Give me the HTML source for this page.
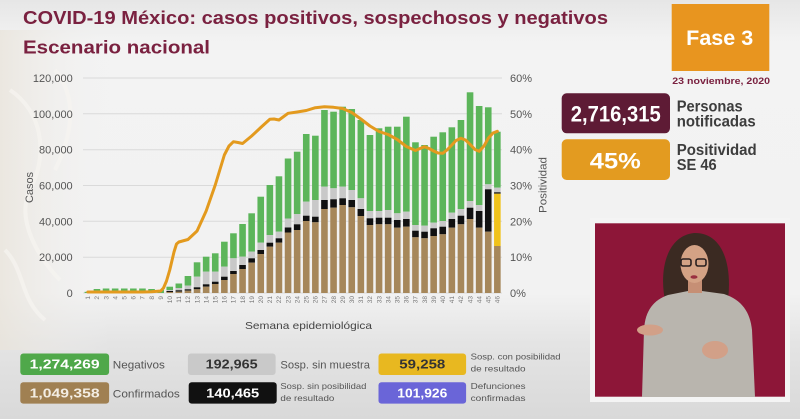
<!DOCTYPE html>
<html><head><meta charset="utf-8"><style>
html,body{margin:0;padding:0;width:800px;height:419px;overflow:hidden;background:#f1f1f1}
svg{display:block}
text{font-family:"Liberation Sans",sans-serif}
</style></head><body>
<svg width="800" height="419" viewBox="0 0 800 419" xmlns="http://www.w3.org/2000/svg">
<defs>
<linearGradient id="bg" x1="0" y1="0" x2="0" y2="1">
<stop offset="0" stop-color="#e6e6e6"/><stop offset="0.1" stop-color="#f3f3f3"/><stop offset="0.7" stop-color="#f2f2f2"/><stop offset="0.82" stop-color="#e4e4e4"/><stop offset="1" stop-color="#d9d9d9"/>
</linearGradient>
<linearGradient id="lf" x1="0" y1="0" x2="1" y2="0">
<stop offset="0" stop-color="#e9e4db"/><stop offset="1" stop-color="#f1f1f1" stop-opacity="0"/>
</linearGradient>
</defs>
<rect width="800" height="419" fill="url(#bg)"/>
<rect x="0" y="30" width="110" height="320" fill="url(#lf)" opacity="0.8"/>
<g fill="none" stroke="#f7f5f1" stroke-width="4" opacity="0.7">
<path d="M10 90 C40 110 50 150 30 190 C15 220 40 260 60 280"/>
<path d="M55 70 C80 100 70 140 55 170"/>
<path d="M5 250 C25 270 20 300 45 320"/>
</g>

<!-- Title -->
<text x="23" y="24" font-size="18" font-weight="bold" fill="#7a2140" textLength="585" lengthAdjust="spacingAndGlyphs">COVID-19 México: casos positivos, sospechosos y negativos</text>
<text x="23" y="53.5" font-size="18" font-weight="bold" fill="#7a2140" textLength="187" lengthAdjust="spacingAndGlyphs">Escenario nacional</text>

<!-- gridlines -->
<g stroke="#dadada" stroke-width="1">
<line x1="83" y1="78" x2="502" y2="78"/>
<line x1="83" y1="113.8" x2="502" y2="113.8"/>
<line x1="83" y1="149.7" x2="502" y2="149.7"/>
<line x1="83" y1="185.5" x2="502" y2="185.5"/>
<line x1="83" y1="221.3" x2="502" y2="221.3"/>
<line x1="83" y1="257.2" x2="502" y2="257.2"/>
<line x1="83" y1="293" x2="502" y2="293"/>
</g>

<!-- y labels left -->
<g font-size="11" fill="#555" text-anchor="end">
<text x="72.7" y="82">120,000</text>
<text x="72.7" y="117.8">100,000</text>
<text x="72.7" y="153.7">80,000</text>
<text x="72.7" y="189.5">60,000</text>
<text x="72.7" y="225.3">40,000</text>
<text x="72.7" y="261.2">20,000</text>
<text x="72.7" y="297">0</text>
</g>
<text transform="translate(33,187.5) rotate(-90)" font-size="11" fill="#555" text-anchor="middle" textLength="31" lengthAdjust="spacingAndGlyphs">Casos</text>
<!-- y labels right -->
<g font-size="11" fill="#555">
<text x="510" y="82">60%</text>
<text x="510" y="117.8">50%</text>
<text x="510" y="153.7">40%</text>
<text x="510" y="189.5">30%</text>
<text x="510" y="225.3">20%</text>
<text x="510" y="261.2">10%</text>
<text x="510" y="297">0%</text>
</g>
<text transform="translate(546.5,185) rotate(-90)" font-size="11" fill="#555" text-anchor="middle" textLength="56" lengthAdjust="spacingAndGlyphs">Positividad</text>

<!-- bars -->
<g>
<g fill="#5cb55a">
<rect x="84.55" y="291.8" width="6.6" height="1.2"/>
<rect x="93.65" y="289" width="6.6" height="4"/>
<rect x="102.75" y="288.5" width="6.6" height="4.5"/>
<rect x="111.85" y="288.5" width="6.6" height="4.5"/>
<rect x="120.95" y="288.5" width="6.6" height="4.5"/>
<rect x="130.05" y="288.5" width="6.6" height="4.5"/>
<rect x="139.15" y="288.5" width="6.6" height="4.5"/>
<rect x="148.25" y="289" width="6.6" height="4"/>
<rect x="157.35" y="290" width="6.6" height="3"/>
</g>
<g fill="#5cb55a">
<rect x="166.45" y="286.7" width="6.6" height="3.3"/>
<rect x="175.55" y="283.5" width="6.6" height="4.5"/>
<rect x="184.65" y="276" width="6.6" height="9.5"/>
<rect x="193.75" y="262.3" width="6.6" height="14.4"/>
<rect x="202.85" y="256.7" width="6.6" height="15"/>
<rect x="211.95" y="253.3" width="6.6" height="18.4"/>
<rect x="221.05" y="241.7" width="6.6" height="25"/>
<rect x="230.15" y="233.3" width="6.6" height="25"/>
<rect x="239.25" y="224" width="6.6" height="32.7"/>
<rect x="248.35" y="213.3" width="6.6" height="38.4"/>
<rect x="257.45" y="196.7" width="6.6" height="46"/>
<rect x="266.55" y="185" width="6.6" height="50"/>
<rect x="275.65" y="176.3" width="6.6" height="55.4"/>
<rect x="284.75" y="158.5" width="6.6" height="60"/>
<rect x="293.85" y="151.7" width="6.6" height="62.3"/>
<rect x="302.95" y="134" width="6.6" height="67.7"/>
<rect x="312.05" y="135.7" width="6.6" height="64.3"/>
<rect x="321.15" y="110" width="6.6" height="76.7"/>
<rect x="330.25" y="111.7" width="6.6" height="76.6"/>
<rect x="339.35" y="106.7" width="6.6" height="80"/>
<rect x="348.45" y="109" width="6.6" height="81"/>
<rect x="357.55" y="120" width="6.6" height="78.3"/>
<rect x="366.65" y="135" width="6.6" height="76"/>
<rect x="375.75" y="128.3" width="6.6" height="82.7"/>
<rect x="384.85" y="126.7" width="6.6" height="83.3"/>
<rect x="393.95" y="126.7" width="6.6" height="86.6"/>
<rect x="403.05" y="116.7" width="6.6" height="95"/>
<rect x="412.15" y="142.3" width="6.6" height="82.7"/>
<rect x="421.25" y="145" width="6.6" height="80.7"/>
<rect x="430.35" y="136.7" width="6.6" height="86"/>
<rect x="439.45" y="132.3" width="6.6" height="88.7"/>
<rect x="448.55" y="127.3" width="6.6" height="85.4"/>
<rect x="457.65" y="120" width="6.6" height="89"/>
<rect x="466.75" y="92.3" width="6.6" height="108.7"/>
<rect x="475.85" y="106" width="6.6" height="99"/>
<rect x="484.95" y="107.3" width="6.6" height="77"/>
<rect x="494.05" y="131.7" width="6.6" height="56"/>
</g>
<g fill="#c8c8c8">
<rect x="166.45" y="290" width="6.6" height="1"/>
<rect x="175.55" y="288" width="6.6" height="2.3"/>
<rect x="184.65" y="285.5" width="6.6" height="3.8"/>
<rect x="193.75" y="276.7" width="6.6" height="10.6"/>
<rect x="202.85" y="271.7" width="6.6" height="12.6"/>
<rect x="211.95" y="271.7" width="6.6" height="10"/>
<rect x="221.05" y="266.7" width="6.6" height="10"/>
<rect x="230.15" y="258.3" width="6.6" height="12.7"/>
<rect x="239.25" y="256.7" width="6.6" height="8.3"/>
<rect x="248.35" y="251.7" width="6.6" height="6.6"/>
<rect x="257.45" y="242.7" width="6.6" height="7.3"/>
<rect x="266.55" y="235" width="6.6" height="7.7"/>
<rect x="275.65" y="231.7" width="6.6" height="6.6"/>
<rect x="284.75" y="218.5" width="6.6" height="9"/>
<rect x="293.85" y="214" width="6.6" height="10.3"/>
<rect x="302.95" y="201.7" width="6.6" height="14"/>
<rect x="312.05" y="200" width="6.6" height="16.7"/>
<rect x="321.15" y="186.7" width="6.6" height="13.3"/>
<rect x="330.25" y="188.3" width="6.6" height="11"/>
<rect x="339.35" y="186.7" width="6.6" height="11.6"/>
<rect x="348.45" y="190" width="6.6" height="10"/>
<rect x="357.55" y="198.3" width="6.6" height="10.7"/>
<rect x="366.65" y="211" width="6.6" height="7.3"/>
<rect x="375.75" y="211" width="6.6" height="6.7"/>
<rect x="384.85" y="210" width="6.6" height="7.7"/>
<rect x="393.95" y="213.3" width="6.6" height="6.7"/>
<rect x="403.05" y="211.7" width="6.6" height="7.3"/>
<rect x="412.15" y="225" width="6.6" height="5.7"/>
<rect x="421.25" y="225.7" width="6.6" height="6"/>
<rect x="430.35" y="222.7" width="6.6" height="5.6"/>
<rect x="439.45" y="221" width="6.6" height="5.7"/>
<rect x="448.55" y="212.7" width="6.6" height="6.3"/>
<rect x="457.65" y="209" width="6.6" height="6.7"/>
<rect x="466.75" y="201" width="6.6" height="6.7"/>
<rect x="475.85" y="205" width="6.6" height="6"/>
<rect x="484.95" y="184.3" width="6.6" height="5"/>
<rect x="494.05" y="187.7" width="6.6" height="4.6"/>
</g>
<g fill="#111">
<rect x="166.45" y="291" width="6.6" height="1"/>
<rect x="175.55" y="290.3" width="6.6" height="1.4"/>
<rect x="184.65" y="289.3" width="6.6" height="1.4"/>
<rect x="193.75" y="287.3" width="6.6" height="2"/>
<rect x="202.85" y="284.3" width="6.6" height="2.4"/>
<rect x="211.95" y="281.7" width="6.6" height="2.3"/>
<rect x="221.05" y="276.7" width="6.6" height="3.3"/>
<rect x="230.15" y="271" width="6.6" height="3"/>
<rect x="239.25" y="265" width="6.6" height="4"/>
<rect x="248.35" y="258.3" width="6.6" height="4.4"/>
<rect x="257.45" y="250" width="6.6" height="4"/>
<rect x="266.55" y="242.7" width="6.6" height="4"/>
<rect x="275.65" y="238.3" width="6.6" height="4.4"/>
<rect x="284.75" y="227.5" width="6.6" height="5"/>
<rect x="293.85" y="224.3" width="6.6" height="5.7"/>
<rect x="302.95" y="215.7" width="6.6" height="5.3"/>
<rect x="312.05" y="216.7" width="6.6" height="5.6"/>
<rect x="321.15" y="200" width="6.6" height="9"/>
<rect x="330.25" y="199.3" width="6.6" height="8.4"/>
<rect x="339.35" y="198.3" width="6.6" height="6.7"/>
<rect x="348.45" y="200" width="6.6" height="7.3"/>
<rect x="357.55" y="209" width="6.6" height="7"/>
<rect x="366.65" y="218.3" width="6.6" height="6.7"/>
<rect x="375.75" y="217.7" width="6.6" height="6.6"/>
<rect x="384.85" y="217.7" width="6.6" height="6.6"/>
<rect x="393.95" y="220" width="6.6" height="7.7"/>
<rect x="403.05" y="219" width="6.6" height="7.7"/>
<rect x="412.15" y="230.7" width="6.6" height="6.6"/>
<rect x="421.25" y="231.7" width="6.6" height="6.6"/>
<rect x="430.35" y="228.3" width="6.6" height="7.7"/>
<rect x="439.45" y="226.7" width="6.6" height="7.6"/>
<rect x="448.55" y="219" width="6.6" height="8.7"/>
<rect x="457.65" y="215.7" width="6.6" height="8.6"/>
<rect x="466.75" y="207.7" width="6.6" height="11.3"/>
<rect x="475.85" y="211" width="6.6" height="16.7"/>
<rect x="484.95" y="189.3" width="6.6" height="42.4"/>
<rect x="494.05" y="192.3" width="6.6" height="1.4"/>
</g>
<rect x="494.05" y="193.7" width="6.6" height="52.3" fill="#f0c21b"/>
<g fill="#a6875a">
<rect x="166.45" y="292" width="6.6" height="1"/>
<rect x="175.55" y="291.7" width="6.6" height="1.3"/>
<rect x="184.65" y="290.7" width="6.6" height="2.3"/>
<rect x="193.75" y="289.3" width="6.6" height="3.7"/>
<rect x="202.85" y="286.7" width="6.6" height="6.3"/>
<rect x="211.95" y="284" width="6.6" height="9"/>
<rect x="221.05" y="280" width="6.6" height="13"/>
<rect x="230.15" y="274" width="6.6" height="19"/>
<rect x="239.25" y="269" width="6.6" height="24"/>
<rect x="248.35" y="262.7" width="6.6" height="30.3"/>
<rect x="257.45" y="254" width="6.6" height="39"/>
<rect x="266.55" y="246.7" width="6.6" height="46.3"/>
<rect x="275.65" y="242.7" width="6.6" height="50.3"/>
<rect x="284.75" y="232.5" width="6.6" height="60.5"/>
<rect x="293.85" y="230" width="6.6" height="63"/>
<rect x="302.95" y="221" width="6.6" height="72"/>
<rect x="312.05" y="222.3" width="6.6" height="70.7"/>
<rect x="321.15" y="209" width="6.6" height="84"/>
<rect x="330.25" y="207.7" width="6.6" height="85.3"/>
<rect x="339.35" y="205" width="6.6" height="88"/>
<rect x="348.45" y="207.3" width="6.6" height="85.7"/>
<rect x="357.55" y="216" width="6.6" height="77"/>
<rect x="366.65" y="225" width="6.6" height="68"/>
<rect x="375.75" y="224.3" width="6.6" height="68.7"/>
<rect x="384.85" y="224.3" width="6.6" height="68.7"/>
<rect x="393.95" y="227.7" width="6.6" height="65.3"/>
<rect x="403.05" y="226.7" width="6.6" height="66.3"/>
<rect x="412.15" y="237.3" width="6.6" height="55.7"/>
<rect x="421.25" y="238.3" width="6.6" height="54.7"/>
<rect x="430.35" y="236" width="6.6" height="57"/>
<rect x="439.45" y="234.3" width="6.6" height="58.7"/>
<rect x="448.55" y="227.7" width="6.6" height="65.3"/>
<rect x="457.65" y="224.3" width="6.6" height="68.7"/>
<rect x="466.75" y="219" width="6.6" height="74"/>
<rect x="475.85" y="227.7" width="6.6" height="65.3"/>
<rect x="484.95" y="231.7" width="6.6" height="61.3"/>
<rect x="494.05" y="246" width="6.6" height="47"/>
</g>
</g>

<!-- positivity line -->
<polyline fill="none" stroke="#e39a1e" stroke-width="3" stroke-linejoin="round" stroke-linecap="round" points="87.85,292 96.95,292 106.05,292 115.15,292 124.25,292 133.35,292 142.45,292 151.55,291.8 160.65,291 163.5,288 166.5,281 169.75,270 174,252 176.5,244 178.85,242 187.95,239.5 197.05,231 206.15,211 215.25,185 224.35,155 229,146 233.45,141.7 238,142.5 242.55,143.5 251.65,136 260.75,127.5 269.85,119.3 274,119 278.95,120 288.05,113.3 297.15,112 306.25,110.5 315.35,107.7 324.45,106.7 333.55,107.3 342.65,108.5 351.75,112.5 360.85,119 369.95,126 379.05,131.5 388.15,134.5 397.25,139.5 406.35,146.5 415.45,150.5 420,148.5 424.55,146.7 429,148.5 433.65,151 438,153 442.75,153.3 447,150 451.85,145 456,140.5 460.95,138.3 465.5,140 470.05,144.3 475,149.5 479.15,151.3 484,146 488.25,138.3 493,133 497.35,131.3"/>

<!-- x tick labels -->
<g font-size="6.5" fill="#777" text-anchor="end">
<text transform="translate(90.1,296) rotate(-90)">1</text>
<text transform="translate(99.2,296) rotate(-90)">2</text>
<text transform="translate(108.3,296) rotate(-90)">3</text>
<text transform="translate(117.4,296) rotate(-90)">4</text>
<text transform="translate(126.5,296) rotate(-90)">5</text>
<text transform="translate(135.6,296) rotate(-90)">6</text>
<text transform="translate(144.7,296) rotate(-90)">7</text>
<text transform="translate(153.8,296) rotate(-90)">8</text>
<text transform="translate(162.9,296) rotate(-90)">9</text>
<text transform="translate(172,296) rotate(-90)">10</text>
<text transform="translate(181.1,296) rotate(-90)">11</text>
<text transform="translate(190.2,296) rotate(-90)">12</text>
<text transform="translate(199.3,296) rotate(-90)">13</text>
<text transform="translate(208.4,296) rotate(-90)">14</text>
<text transform="translate(217.5,296) rotate(-90)">15</text>
<text transform="translate(226.6,296) rotate(-90)">16</text>
<text transform="translate(235.7,296) rotate(-90)">17</text>
<text transform="translate(244.8,296) rotate(-90)">18</text>
<text transform="translate(253.9,296) rotate(-90)">19</text>
<text transform="translate(263,296) rotate(-90)">20</text>
<text transform="translate(272.1,296) rotate(-90)">21</text>
<text transform="translate(281.2,296) rotate(-90)">22</text>
<text transform="translate(290.3,296) rotate(-90)">23</text>
<text transform="translate(299.4,296) rotate(-90)">24</text>
<text transform="translate(308.5,296) rotate(-90)">25</text>
<text transform="translate(317.6,296) rotate(-90)">26</text>
<text transform="translate(326.7,296) rotate(-90)">27</text>
<text transform="translate(335.8,296) rotate(-90)">28</text>
<text transform="translate(344.9,296) rotate(-90)">29</text>
<text transform="translate(354,296) rotate(-90)">30</text>
<text transform="translate(363.1,296) rotate(-90)">31</text>
<text transform="translate(372.2,296) rotate(-90)">32</text>
<text transform="translate(381.3,296) rotate(-90)">33</text>
<text transform="translate(390.4,296) rotate(-90)">34</text>
<text transform="translate(399.5,296) rotate(-90)">35</text>
<text transform="translate(408.6,296) rotate(-90)">36</text>
<text transform="translate(417.7,296) rotate(-90)">37</text>
<text transform="translate(426.8,296) rotate(-90)">38</text>
<text transform="translate(435.9,296) rotate(-90)">39</text>
<text transform="translate(445,296) rotate(-90)">40</text>
<text transform="translate(454.1,296) rotate(-90)">41</text>
<text transform="translate(463.2,296) rotate(-90)">42</text>
<text transform="translate(472.3,296) rotate(-90)">43</text>
<text transform="translate(481.4,296) rotate(-90)">44</text>
<text transform="translate(490.5,296) rotate(-90)">45</text>
<text transform="translate(499.6,296) rotate(-90)">46</text>
</g>
<text x="308.5" y="329" font-size="10.5" fill="#444" text-anchor="middle" textLength="127" lengthAdjust="spacingAndGlyphs">Semana epidemiológica</text>

<!-- right panel -->
<rect x="671.7" y="4" width="97.6" height="67" fill="#e8951f"/>
<text x="719.7" y="45" font-size="21" font-weight="bold" fill="#fff" text-anchor="middle" textLength="67" lengthAdjust="spacingAndGlyphs">Fase 3</text>
<text x="672.3" y="84" font-size="9.5" font-weight="bold" fill="#7a2140" textLength="97.7" lengthAdjust="spacingAndGlyphs">23 noviembre, 2020</text>

<rect x="561.7" y="93.3" width="108.3" height="40" rx="5" fill="#5e1b35"/>
<text x="615.8" y="121.7" font-size="22" font-weight="bold" fill="#fff" text-anchor="middle" textLength="90" lengthAdjust="spacingAndGlyphs">2,716,315</text>
<text x="676.7" y="111.7" font-size="16" font-weight="bold" fill="#3d3d3d" textLength="66" lengthAdjust="spacingAndGlyphs">Personas</text>
<text x="676.7" y="126.7" font-size="16" font-weight="bold" fill="#3d3d3d" textLength="79" lengthAdjust="spacingAndGlyphs">notificadas</text>

<rect x="561.7" y="139.3" width="108.3" height="40.7" rx="5" fill="#e39b20"/>
<text x="615.3" y="168.3" font-size="22" font-weight="bold" fill="#fff" text-anchor="middle" textLength="51" lengthAdjust="spacingAndGlyphs">45%</text>
<text x="676.7" y="155" font-size="16" font-weight="bold" fill="#3d3d3d" textLength="80" lengthAdjust="spacingAndGlyphs">Positividad</text>
<text x="676.7" y="170" font-size="16" font-weight="bold" fill="#3d3d3d" textLength="40" lengthAdjust="spacingAndGlyphs">SE 46</text>

<!-- person box -->
<rect x="590" y="218" width="200" height="184" fill="#f4f4f4"/>
<rect x="595" y="223.3" width="190" height="173.4" fill="#8d1638"/>
<g>
<path d="M666 305 C658 272 666 236 694 233 C722 232 734 264 727 307 Z" fill="#3b2a22"/>
<path d="M642 397 L644 330 C645 310 654 300 668 295 L688 291 L702 291 L724 294 C742 300 750 312 752 330 L755 397 Z" fill="#b9b5ae"/>
<rect x="688" y="280" width="14" height="13" fill="#c68f75"/>
<ellipse cx="694.5" cy="264" rx="14" ry="19" fill="#d4a285"/>
<path d="M680 254 C684 242 704 240 710 254 L712 246 C706 236 684 236 678 246 Z" fill="#3b2a22"/>
<rect x="681" y="259" width="10" height="7" rx="2" fill="none" stroke="#2a2020" stroke-width="1.6"/>
<rect x="696" y="259" width="10" height="7" rx="2" fill="none" stroke="#2a2020" stroke-width="1.6"/>
<ellipse cx="694" cy="277" rx="3.5" ry="1.8" fill="#9a3040"/>
<ellipse cx="650" cy="330" rx="13" ry="5.5" fill="#d2a088"/>
<ellipse cx="715" cy="350" rx="13" ry="9" fill="#d2a088"/>
</g>

<!-- bottom legend -->
<rect x="20.3" y="353.5" width="88.8" height="21.5" rx="3" fill="#4fa84a"/>
<text x="64.7" y="368.6" font-size="12.5" font-weight="bold" fill="#fff" text-anchor="middle" textLength="70" lengthAdjust="spacingAndGlyphs">1,274,269</text>
<text x="112.8" y="368.5" font-size="11" fill="#555" textLength="52" lengthAdjust="spacingAndGlyphs">Negativos</text>

<rect x="187.9" y="353.5" width="87.7" height="21.5" rx="3" fill="#c9c9c9"/>
<text x="231.7" y="368.6" font-size="12.5" font-weight="bold" fill="#333" text-anchor="middle" textLength="52" lengthAdjust="spacingAndGlyphs">192,965</text>
<text x="280.4" y="368.5" font-size="11" fill="#555" textLength="89.6" lengthAdjust="spacingAndGlyphs">Sosp. sin muestra</text>

<rect x="378.5" y="353.5" width="87.6" height="21.5" rx="3" fill="#e8b820"/>
<text x="422.3" y="368.6" font-size="12.5" font-weight="bold" fill="#333" text-anchor="middle" textLength="46" lengthAdjust="spacingAndGlyphs">59,258</text>
<text x="470.6" y="359.5" font-size="8.5" fill="#555" textLength="90" lengthAdjust="spacingAndGlyphs">Sosp. con posibilidad</text>
<text x="470.6" y="371.5" font-size="8.5" fill="#555" textLength="55" lengthAdjust="spacingAndGlyphs">de resultado</text>

<rect x="20.3" y="382.3" width="88.8" height="21.3" rx="3" fill="#a08052"/>
<text x="64.7" y="397.3" font-size="12.5" font-weight="bold" fill="#f3ede3" text-anchor="middle" textLength="70" lengthAdjust="spacingAndGlyphs">1,049,358</text>
<text x="112.8" y="397.3" font-size="11" fill="#555" textLength="67" lengthAdjust="spacingAndGlyphs">Confirmados</text>

<rect x="188.7" y="382.3" width="88" height="21.3" rx="3" fill="#111"/>
<text x="232.7" y="397.3" font-size="12.5" font-weight="bold" fill="#fff" text-anchor="middle" textLength="53" lengthAdjust="spacingAndGlyphs">140,465</text>
<text x="280.4" y="389" font-size="8.5" fill="#555" textLength="86" lengthAdjust="spacingAndGlyphs">Sosp. sin posibilidad</text>
<text x="280.4" y="400.8" font-size="8.5" fill="#555" textLength="54" lengthAdjust="spacingAndGlyphs">de resultado</text>

<rect x="378.5" y="382.3" width="87.6" height="21.3" rx="3" fill="#6a65d8"/>
<text x="422.3" y="397.3" font-size="12.5" font-weight="bold" fill="#fff" text-anchor="middle" textLength="50" lengthAdjust="spacingAndGlyphs">101,926</text>
<text x="470.6" y="389" font-size="8.5" fill="#555" textLength="55" lengthAdjust="spacingAndGlyphs">Defunciones</text>
<text x="470.6" y="400.8" font-size="8.5" fill="#555" textLength="55" lengthAdjust="spacingAndGlyphs">confirmadas</text>
</svg>
</body></html>
